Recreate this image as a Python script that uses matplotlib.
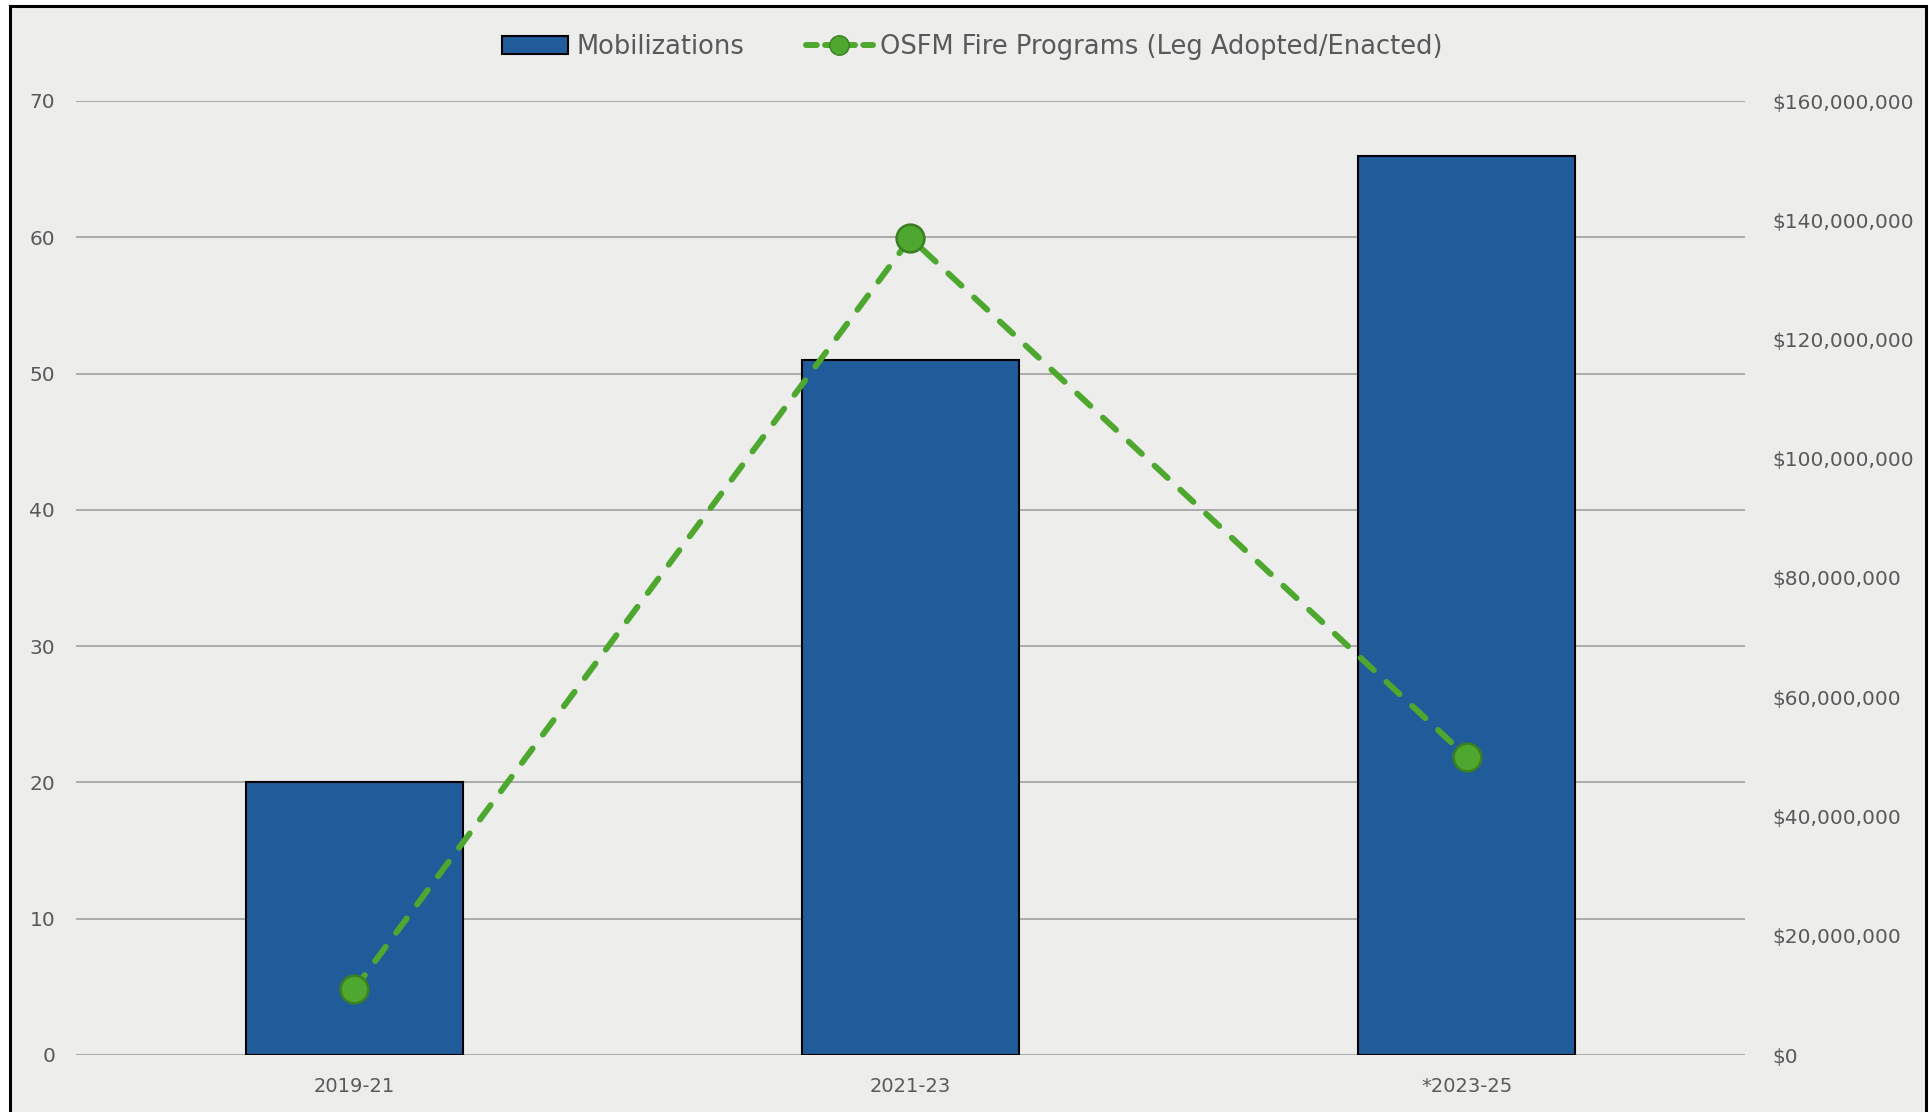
import matplotlib.pyplot as plt
from matplotlib.lines import Line2D
from matplotlib.patches import Patch, Rectangle
from matplotlib.ticker import FuncFormatter

categories = ["2019-21", "2021-23", "*2023-25"]
mobilizations = [20, 51, 66]
osfm_programs = [11000000, 137000000, 50000000]

bar_color = "#1F5C99"
line_color = "#4EA72E"
text_color = "#595959"
bg = "#EDEDEB"

plt.rcParams["font.family"] = ["DejaVu Sans"]

fig = plt.figure(figsize=(19.29, 11.12), dpi=100)
fig.patch.set_facecolor("white")
frame = Rectangle((10 / 1929, -0.02), 1916 / 1929, 1.02 - 6 / 1112,
                  transform=fig.transFigure, facecolor=bg,
                  edgecolor="black", linewidth=2.2, zorder=-1)
fig.add_artist(frame)

ax = fig.add_axes([76 / 1929, 57 / 1112, 1669 / 1929, 954 / 1112])
ax.set_facecolor("none")
x = range(len(categories))
ax.bar(x, mobilizations, width=0.39, color=bar_color, edgecolor="black",
       linewidth=1.5, zorder=2)
ax.set_xlim(-0.5, 2.5)
ax.set_ylim(0, 70)
ax.set_yticks(range(0, 71, 10))
ax.set_xticks(list(x))
ax.set_xticklabels(categories)
ax.grid(axis="y", color="#ABABAB", linewidth=1.4, zorder=0)
ax.axhline(0, color="#D9D9D9", linewidth=2.2, zorder=1)
for s in ax.spines.values():
    s.set_visible(False)
ax.tick_params(axis="y", length=0, pad=15, labelsize=14.5, labelcolor=text_color)
ax.tick_params(axis="x", length=0, pad=16, labelsize=14, labelcolor=text_color)

ax2 = ax.twinx()
ax2.set_ylim(0, 160000000)
ax2.set_yticks(range(0, 160000001, 20000000))
ax2.yaxis.set_major_formatter(FuncFormatter(lambda v, p: "${:,.0f}".format(v)))
for s in ax2.spines.values():
    s.set_visible(False)
ax2.tick_params(axis="y", length=0, pad=20, labelsize=14.5, labelcolor=text_color)
ax2.plot(list(x), osfm_programs, color=line_color, linewidth=4.3,
         dashes=(3.0, 2.9), dash_capstyle="round", marker="o", markersize=20,
         markerfacecolor=line_color, markeredgecolor="#3A7F22",
         markeredgewidth=1.8, zorder=3)

handles = [
    Patch(facecolor=bar_color, edgecolor="black", linewidth=1.5),
    Line2D([], [], color=line_color, linewidth=4.3, dashes=(1.8, 1.4),
           dash_capstyle="round", marker="o", markersize=14,
           markerfacecolor=line_color, markeredgecolor="#3A7F22"),
]
fig.legend(handles, ["Mobilizations", "OSFM Fire Programs (Leg Adopted/Enacted)"],
           loc="center", bbox_to_anchor=(0.504, 0.958), ncol=2, frameon=False,
           fontsize=18.5, labelcolor=text_color, handlelength=2.6,
           handletextpad=0.3, columnspacing=2.4)

fig.savefig("out.png", dpi=100, facecolor=fig.get_facecolor())
